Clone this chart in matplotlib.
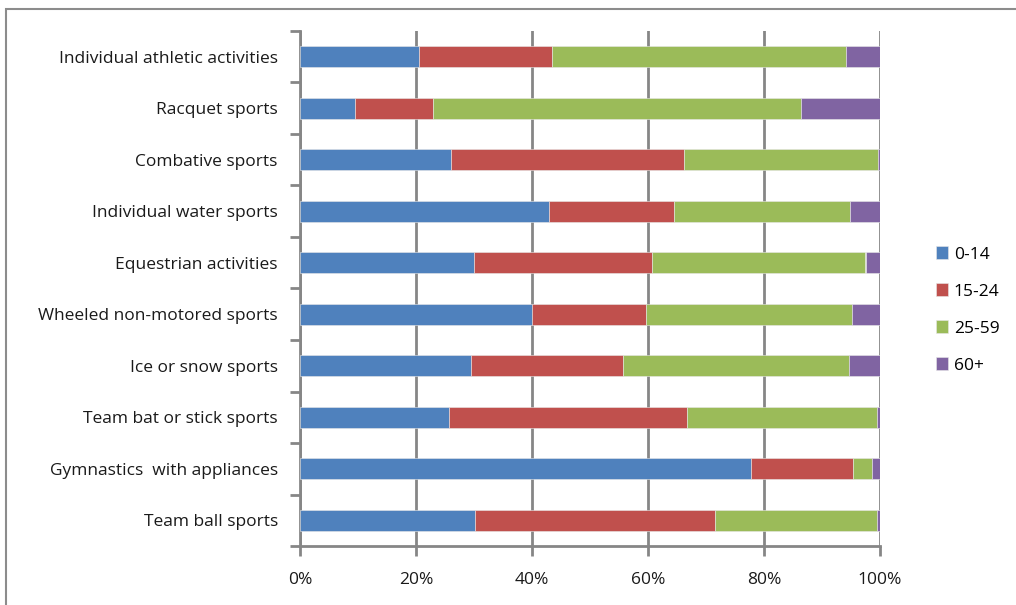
import numpy as np
import matplotlib.pyplot as plt
from matplotlib.patches import Rectangle

plt.rcParams['font.family'] = ['Open Sans', 'DejaVu Sans']

# categories, bottom to top
sports = ['Team ball sports', 'Gymnastics  with appliances', 'Team bat or stick sports',
          'Ice or snow sports', 'Wheeled non-motored sports', 'Equestrian activities',
          'Individual water sports', 'Combative sports', 'Racquet sports',
          'Individual athletic activities']

# shares in percent per age group
age_0_14 = [30.1, 77.7, 25.7, 29.4, 40.0, 30.0, 43.0, 26.0, 9.5, 20.5]
age_15_24 = [41.5, 17.7, 41.0, 26.3, 19.7, 30.7, 21.4, 40.2, 13.5, 22.9]
age_25_59 = [27.8, 3.2, 32.7, 39.0, 35.5, 36.8, 30.5, 33.4, 63.3, 50.8]
age_60 = [0.6, 1.4, 0.6, 5.3, 4.8, 2.5, 5.1, 0.4, 13.7, 5.8]

groups = ['0-14', '15-24', '25-59', '60+']
colors = ['#4F81BD', '#C0504D', '#9BBB59', '#8064A2']
values = np.array([age_0_14, age_15_24, age_25_59, age_60])

fig = plt.figure(figsize=(10.16, 6.05), dpi=100)
ax = fig.add_axes([300 / 1016, 1 - 546 / 605, 580 / 1016, 515 / 605])

# outer chart border
fig.patches.append(Rectangle((6 / 1016, -0.1), 1.2, 1 - 9 / 605 + 0.1,
                             transform=fig.transFigure, fill=False,
                             edgecolor='#8c8c8c', linewidth=1.5))

y = np.arange(len(sports))
left = np.zeros(len(sports))
for vals, name, col in zip(values, groups, colors):
    ax.barh(y, vals, left=left, height=0.4, color=col, label=name,
            edgecolor='#e8e8e8', linewidth=0.4, zorder=3)
    left += vals

ax.set_xlim(0, 100)
ax.set_ylim(-0.5, len(sports) - 0.5)
ax.set_xticks(np.arange(0, 101, 20))
ax.set_xticklabels([f'{t}%' for t in range(0, 101, 20)])
ax.set_yticks(y)
ax.set_yticklabels(sports)
ax.set_yticks(np.arange(-0.5, len(sports)), minor=True)

grid_col = '#868686'
ax.grid(axis='x', color=grid_col, linewidth=2, zorder=0)
for s in ['top', 'right']:
    ax.spines[s].set_visible(False)
for s in ['left', 'bottom']:
    ax.spines[s].set_color(grid_col)
    ax.spines[s].set_linewidth(2)

fs = 12.5
ax.tick_params(axis='y', which='major', length=0, pad=16, labelsize=fs, labelcolor='#1a1a1a')
ax.tick_params(axis='y', which='minor', length=7, width=2, color=grid_col)
ax.tick_params(axis='x', length=7, width=2, color=grid_col, pad=12, labelsize=fs, labelcolor='#1a1a1a')

fig.legend(loc='center left', bbox_to_anchor=(920 / 1016, 1 - 310 / 605), frameon=False,
           fontsize=fs, handlelength=0.7, handleheight=0.7, handletextpad=0.35,
           labelspacing=1.2)

fig.savefig('out.png', dpi=100)
